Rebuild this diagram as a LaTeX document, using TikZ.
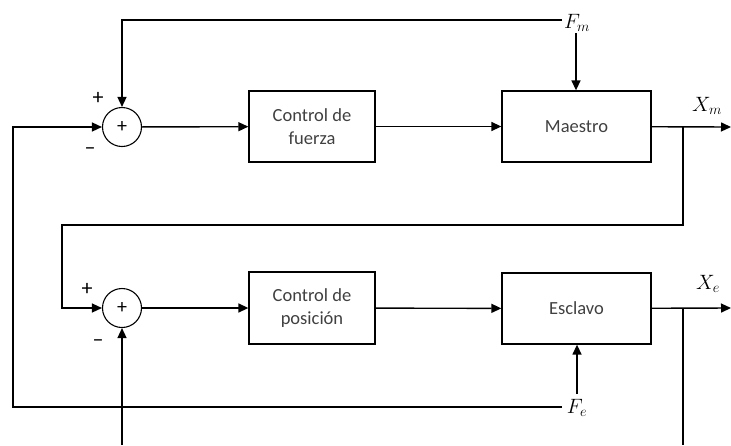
\documentclass[tikz,border=0pt]{standalone}
\usepackage{fontspec}
\setmainfont{Carlito}
\usetikzlibrary{arrows.meta}
\begin{document}
\begin{tikzpicture}[x=1pt,y=-1pt,
  wire/.style={line width=1.4pt,black},
  arr/.style={wire,-{Triangle[length=10pt,width=9pt]}},
  block/.style={draw,line width=1.3pt,minimum height=71pt,align=center,
    text=black!75,font=\fontsize{18.5}{22.6}\selectfont,inner sep=0pt},
  sumj/.style={draw,circle,line width=1.1pt,minimum size=39pt,inner sep=0pt,
    font=\fontsize{20}{20}\selectfont},
  sign/.style={font=\fontsize{22}{22}\selectfont,inner sep=0pt},
  sig/.style={font=\fontsize{22}{22}\selectfont,inner sep=0pt}]
\useasboundingbox (0,0) rectangle (731,445);

% summing junctions
\node[sumj] (sum1) at (122,127) {+};
\node[sumj] (sum2) at (122,308) {+};
\node[sign] (p1) at (98,98) {+};
\node[sign] (m1) at (90,151) {--};
\node[sign] (p2) at (87,289) {+};
\node[sign] (m2) at (98,343) {--};

% blocks
\node[block,minimum width=126pt] (fuerza) at (312,126.5) {Control de\\fuerza};
\node[block,minimum width=149pt] (maestro) at (576.5,126.5) {Maestro};
\node[block,minimum width=126pt,minimum height=72pt] (posicion) at (312,308) {Control de\\posición};
\node[block,minimum width=149pt] (esclavo) at (576.5,308.5) {Esclavo};

% signal labels
\node[sig] (Fm) at (577,23) {$F_m$};
\node[sig] (Fe) at (577,408) {$F_e$};
\node[sig] (Xm) at (707,106) {$X_m$};
\node[sig] (Xe) at (708,284) {$X_e$};

% routing points
\coordinate (fmL) at (562,20);
\coordinate (feL) at (562,407);
\coordinate (b1) at (683,127);
\coordinate (b2) at (683,308);
\coordinate (c1) at (62,225);
\coordinate (c2) at (13,407);
\coordinate (outm) at (731,127);
\coordinate (oute) at (731,308);
\coordinate (bot1) at (122,445);
\coordinate (bot2) at (683,445);
\coordinate (feTop) at (577,394);
\coordinate (fmBot) at (576,33);

% forward paths
\draw[arr] (sum1) -- (fuerza);
\draw[arr] (fuerza) -- (maestro);
\draw[arr] (maestro) -- (outm);
\draw[arr] (sum2) -- (posicion);
\draw[arr] (posicion) -- (esclavo);
\draw[arr] (esclavo) -- (oute);

% external forces
\draw[arr] (fmBot) -- (fmBot |- maestro.north);
\draw[arr] (fmL) -| (sum1);
\draw[arr] (feTop) -- (feTop |- esclavo.south);
\draw[arr] (feL) -- (c2) |- (sum1);

% position feedback
\draw[arr] (b1) |- (c1) |- (sum2);
\draw[wire] (b2) -- (bot2);
\draw[arr] (bot1) -- (sum2);
\end{tikzpicture}
\end{document}
